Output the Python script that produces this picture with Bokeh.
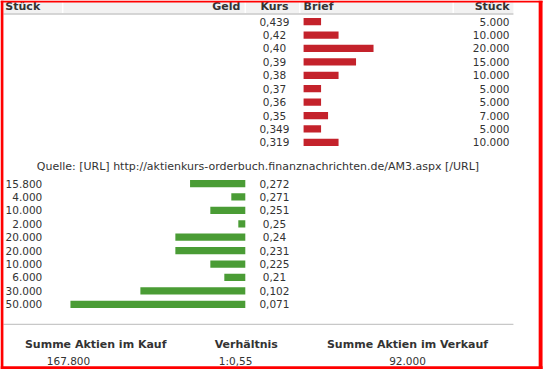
from bokeh.plotting import figure
from bokeh.models import Range1d, ColumnDataSource
from bokeh.core.properties import value
from bokeh.embed import file_html
from bokeh.resources import INLINE

# ---- data ----
ask_prices = ["0,439", "0,42", "0,40", "0,39", "0,38", "0,37", "0,36", "0,35", "0,349", "0,319"]
ask_volumes = [5000, 10000, 20000, 15000, 10000, 5000, 5000, 7000, 5000, 10000]
bid_prices = ["0,272", "0,271", "0,251", "0,25", "0,24", "0,231", "0,225", "0,21", "0,102", "0,071"]
bid_volumes = [15800, 4000, 10000, 2000, 20000, 20000, 10000, 6000, 30000, 50000]
headers = ["Stück", "Geld", "Kurs", "Brief", "Stück"]
source_text = "Quelle: [URL] http://aktienkurs-orderbuch.finanznachrichten.de/AM3.aspx [/URL]"
footer_titles = ["Summe Aktien im Kauf", "Verhältnis", "Summe Aktien im Verkauf"]


def de_num(v):
    return f"{v:,}".replace(",", ".")


sum_bid = sum(bid_volumes)
sum_ask = sum(ask_volumes)
ratio = f"1:{sum_ask / sum_bid:.2f}".replace(".", ",")

FONT = value("DejaVu Sans")
TXT = "#333333"
RED = "#c4222b"
GREEN = "#4a9c35"

W, H = 544, 369
p = figure(width=W, height=H, output_backend="svg", toolbar_location=None,
           x_range=Range1d(0, 560), y_range=Range1d(385, 0),
           min_border=0, outline_line_color=None)
p.axis.visible = False
p.grid.visible = False
p.background_fill_color = "white"

# row scales: index -> vertical position (14 ref px per row)
ROW = 14.0
ask_top, bid_top = 22.0, 191.0
p.extra_y_ranges = {
    "ask": Range1d(start=(385 - ask_top) / ROW, end=-ask_top / ROW),
    "bid": Range1d(start=(385 - bid_top) / ROW, end=-bid_top / ROW),
}
# volume scales: 3.6 ref px per 1000 shares
PX = 3.6 / 1000
ask_zero, bid_zero = 312.0, 252.0
p.extra_x_ranges = {
    "askv": Range1d(start=-ask_zero / PX, end=(560 - ask_zero) / PX),
    "bidv": Range1d(start=bid_zero / PX, end=-(560 - bid_zero) / PX),
}

# header band
p.quad(left=3, right=528, top=0, bottom=13.5, fill_color="#f2f2f2", line_color=None)
p.segment(x0=3, x1=528, y0=14, y1=14, line_color="#c8c8c8", line_width=1.5)
p.segment(x0=[64, 252, 308, 466], x1=[64, 252, 308, 466], y0=[0] * 4, y1=[13] * 4,
          line_color="white", line_width=1.5)
p.text(x=[5, 247, 282, 312, 524], y=[6.5] * 5, text=headers,
       text_align=["left", "right", "center", "left", "right"],
       text_baseline="alphabetic", text_font=FONT, text_font_size="11px",
       text_font_style="bold", text_color=TXT)

# ask side
n_a = len(ask_prices)
ask_src = ColumnDataSource(dict(
    idx=list(range(n_a)), vol=ask_volumes, price=ask_prices,
    vlab=[de_num(v) for v in ask_volumes]))
p.hbar(y="idx", left=0, right="vol", height=0.54, source=ask_src,
       x_range_name="askv", y_range_name="ask", fill_color=RED, line_color=None)
p.text(x=282, y="idx", text="price", source=ask_src, y_range_name="ask",
       text_align="center", text_baseline="middle", text_font=FONT,
       text_font_size="10.5px", text_color=TXT)
p.text(x=524, y="idx", text="vlab", source=ask_src, y_range_name="ask",
       text_align="right", text_baseline="middle", text_font=FONT,
       text_font_size="10.5px", text_color=TXT)

# source line
p.text(x=[265], y=[173], text=[source_text], text_align="center",
       text_baseline="middle", text_font=FONT, text_font_size="11px", text_color=TXT)

# bid side
n_b = len(bid_prices)
bid_src = ColumnDataSource(dict(
    idx=list(range(n_b)), vol=bid_volumes, price=bid_prices,
    vlab=[de_num(v) for v in bid_volumes]))
p.hbar(y="idx", left=0, right="vol", height=0.54, source=bid_src,
       x_range_name="bidv", y_range_name="bid", fill_color=GREEN, line_color=None)
p.text(x=282, y="idx", text="price", source=bid_src, y_range_name="bid",
       text_align="center", text_baseline="middle", text_font=FONT,
       text_font_size="10.5px", text_color=TXT)
p.text(x=43, y="idx", text="vlab", source=bid_src, y_range_name="bid",
       text_align="right", text_baseline="middle", text_font=FONT,
       text_font_size="10.5px", text_color=TXT)

# footer
p.segment(x0=3, x1=528, y0=338, y1=338, line_color="#c8c8c8", line_width=1.2)
p.text(x=[98, 253, 419], y=[359] * 3, text=footer_titles, text_align="center",
       text_baseline="alphabetic", text_font=FONT, text_font_size="11px",
       text_font_style="bold", text_color=TXT)
p.text(x=[70, 242, 419], y=[376] * 3, text=[de_num(sum_bid), ratio, de_num(sum_ask)],
       text_align="center", text_baseline="alphabetic", text_font=FONT,
       text_font_size="10.5px", text_color=TXT)

# red frame
p.quad(left=[0, 0, 554, 0], right=[3, 558, 558, 558], top=[0, 0, 0, 381.5],
       bottom=[385, 2, 385, 385], fill_color="#ff0000", line_color=None)

open("out.html", "w").write(file_html(p, INLINE))
